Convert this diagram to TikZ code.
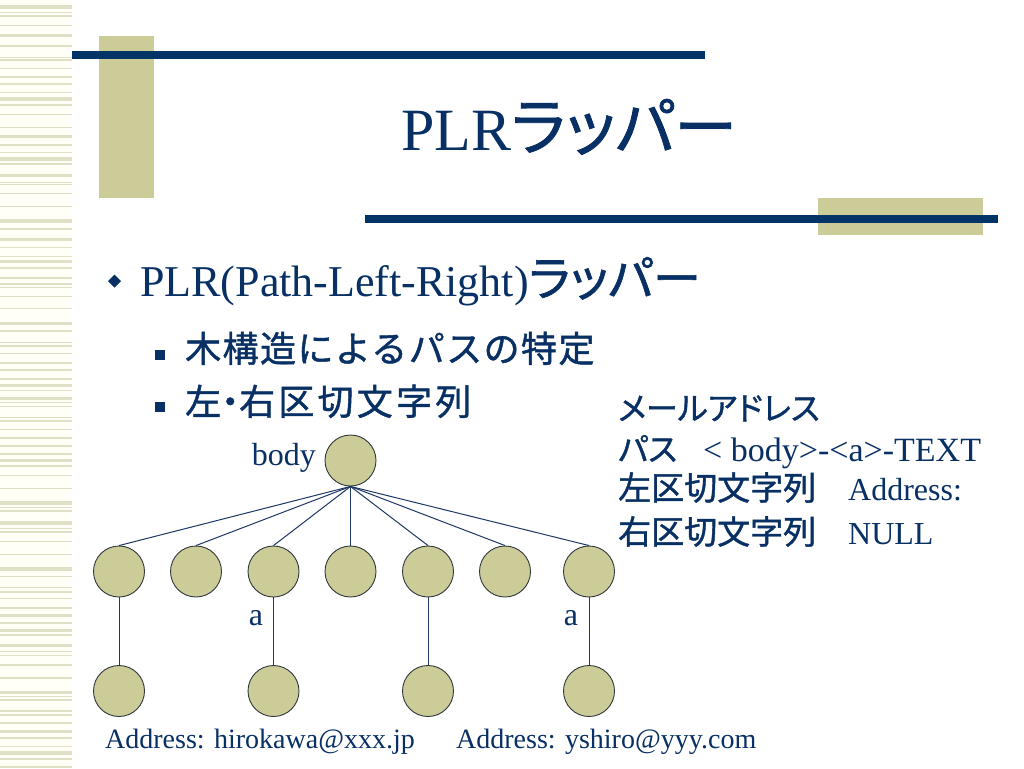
\documentclass[tikz,border=0pt]{standalone}
\usepackage{fontspec}
\setmainfont{Liberation Serif}
\newfontfamily\jp[FakeBold=1.2]{Noto Sans CJK JP}
\newfontfamily\jpp[RawFeature=+palt,FakeBold=1.2]{Noto Sans CJK JP}
\newfontfamily\jpm[LetterSpace=4,FakeBold=1.2]{Noto Sans CJK JP}
\newfontfamily\jpw[LetterSpace=9,FakeBold=1.2]{Noto Sans CJK JP}
\definecolor{navybar}{RGB}{0,51,102}
\definecolor{navytext}{RGB}{8,48,100}
\definecolor{beige}{RGB}{204,204,153}
\definecolor{stripebg}{RGB}{255,255,247}
\definecolor{stripe}{RGB}{224,224,198}
\definecolor{edgecol}{RGB}{30,55,100}
\tikzset{
  tnode/.style={circle, draw={rgb,255:red,50;green,55;blue,60}, fill=beige, minimum size=51pt, inner sep=0pt, line width=0.9pt},
  edge/.style={draw=edgecol, line width=1pt},
  txt/.style={text=navytext, inner sep=0pt, anchor=base west},
  lbl/.style={text=navytext, inner sep=0pt, font=\fontsize{32}{38}\selectfont}
}
\begin{document}
\begin{tikzpicture}[x=1pt,y=-1pt]
\useasboundingbox (0,0) rectangle (1024,768);
\fill[white] (0,0) rectangle (1024,768);
% left stripes
\fill[stripebg] (0,0) rectangle (72,768);
\foreach \a/\b in {5/9,11.7/12.7,15/16.7,25/26,34/37.3,45/46.7,56.7/57.7,59.3/61,68.3/69.3,76/77.7,83.3/85.3,91.7/92.7,97.3/100.7,104/105.7,114/115,126.7/127.7,135/137.7,144/145.7,151.7/153.3,157.3/160.7,163.3/165,174/177.3,181.7/183,184/185,193.3/194.3,206/207,219.3/222.7,227.7/230,238.3/240.7,246.7/248.3,256/257.3,260/263.3,266.7/268.7,276.7/279.3,283.3/285.3,286.7/287.7,296/297,308.3/309.3,322/325,330/332.3,341.7/342.7,345/346.7,353.3/354.3,361.7/364,369.3/371,378.3/380,384/386.7,390/391.3,397.3/400,402.3/403.3,405.7/407.3,417.3/418.3,420/422.3,429/430,436.7/439,444.7/446.7,453.3/455,459/462.3,464.7/466.7,474.7/476.3,488/489.3,501.3/504.7,506.7/508.3,510/512,521.3/524.7,528/529.3,531.3/532.7,540.7/542,554/555.3,567.3/570.7,575.7/577.3,586.7/588,590.7/592.7,598/599.3,606.7/609.3,614/616.7,622.3/624,629/632.3,634/635.7,644/647.3,650.7/652.3,654.7/656,664/665.7,677.3/678.7,690.7/694,695.7/697.3,699/700.7,710/712,714/715.7,722.3/724,730/732.7,737.3/739.3,745.7/747.3,751.3/754.7,758/760,765.7/768}
  \fill[stripe] (0,\a) rectangle (72,\b);
% title decoration
\fill[beige] (99,36) rectangle (154,198);
\fill[navybar] (72,51) rectangle (705,59.3);
\fill[beige] (818,198) rectangle (983,235);
\fill[navybar] (365,215) rectangle (998,222.5);
% title
\node[txt] (title) at (401,150) {\fontsize{60}{72}\selectfont PLR{\fontsize{63}{72}\selectfont\jpp ラッパー}};
% bullets
\fill[navytext] (108,281) -- (114.5,274.5) -- (121,281) -- (114.5,287.5) -- cycle;
\node[txt] (b1txt) at (140,296) {\fontsize{44}{52}\selectfont PLR(Path-Left-Right){\fontsize{48}{52}\selectfont\jpp ラッパー}};
\fill[navytext] (155,350) rectangle (165,360);
\node[txt] (s1txt) at (185,362) {\fontsize{36}{42}\selectfont\jpm 木構造によるパスの特定};
\fill[navytext] (155,402) rectangle (165,412);
\node[txt] (s2txt) at (185,415) {\fontsize{36}{42}\selectfont\jpw 左{\jpp ・}右区切文字列};
% right block
\node[txt] (r1) at (618,420) {\fontsize{32}{38}\selectfont\jpp メールアドレス};
\node[txt] (r2a) at (618,461) {\fontsize{32}{38}\selectfont\jpp パス};
\node[txt] (r2b) at (703,461) {\fontsize{34}{38}\selectfont < body>-<a>-TEXT};
\node[txt] (r3a) at (618,500) {\fontsize{33}{38}\selectfont\jp 左区切文字列};
\node[txt] (r3b) at (848,500) {\fontsize{32}{38}\selectfont Address:};
\node[txt] (r4a) at (618,544) {\fontsize{33}{38}\selectfont\jp 右区切文字列};
\node[txt] (r4b) at (848,544) {\fontsize{32}{38}\selectfont NULL};
% tree
\node[tnode] (r) at (350.5,460.5) {};
\node[lbl, anchor=base east] (bodylbl) at (316,465) {body};
\foreach \i/\x in {1/119,2/196,3/273.5,4/350.5,5/428,6/505,7/589}
  \node[tnode] (c\i) at (\x,571.5) {};
\foreach \i in {1,...,7}
  \draw[edge] (r.south) -- (c\i.north);
\node[tnode] (d1) at (119,691) {};
\node[tnode] (d2) at (273.5,691) {};
\node[tnode] (d3) at (428,691) {};
\node[tnode] (d4) at (589,691) {};
\draw[edge] (c1.south) -- (d1.north);
\draw[edge] (c3.south) -- (d2.north);
\draw[edge] (c5.south) -- (d3.north);
\draw[edge] (c7.south) -- (d4.north);
\node[lbl] (a1) at (256,618) {a};
\node[lbl] (a2) at (571,618) {a};
% addresses
\node[txt] (addr1) at (105,748) {\fontsize{28}{34}\selectfont Address: hirokawa@xxx.jp};
\node[txt] (addr2) at (456,748) {\fontsize{28}{34}\selectfont Address: yshiro@yyy.com};
\end{tikzpicture}
\end{document}
